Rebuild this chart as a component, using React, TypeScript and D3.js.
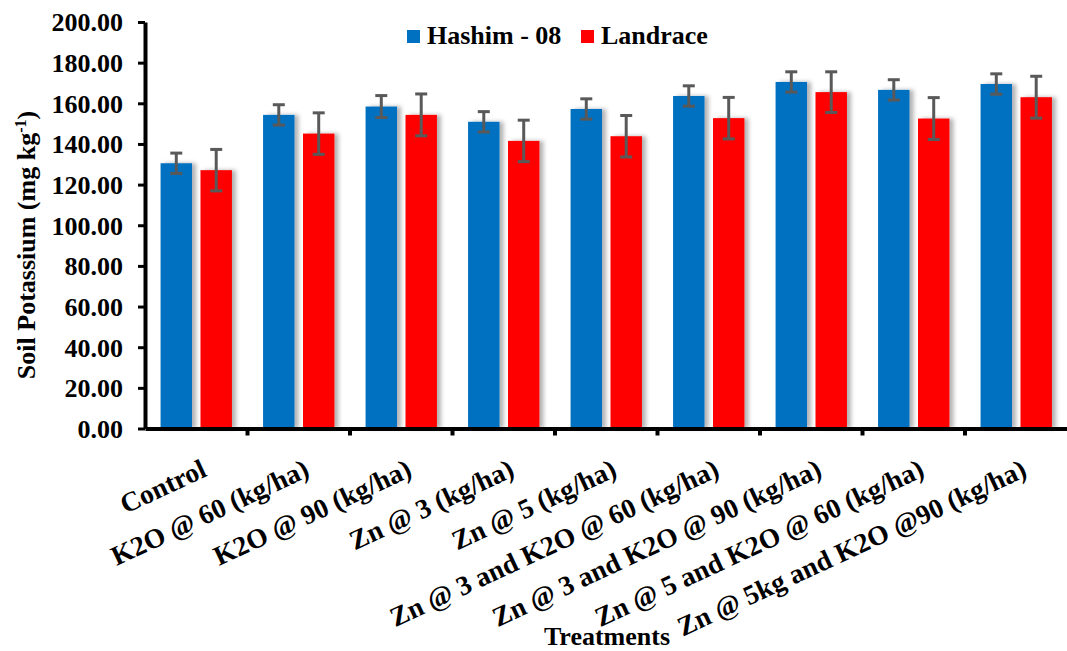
import React, { useRef, useEffect } from "react";
import * as d3 from "d3";

const categories = [
  "Control",
  "K2O @ 60 (kg/ha)",
  "K2O @ 90 (kg/ha)",
  "Zn @ 3 (kg/ha)",
  "Zn @ 5 (kg/ha)",
  "Zn @ 3 and K2O @ 60 (kg/ha)",
  "Zn @ 3 and K2O @ 90 (kg/ha)",
  "Zn @ 5 and K2O @ 60 (kg/ha)",
  "Zn @ 5kg and K2O @90 (kg/ha)",
];
const seriesNames = ["Hashim - 08", "Landrace"];
const seriesColors = ["#0070C0", "#FF0000"];
const hashimValues = [130.5, 154.3, 158.4, 150.9, 157.2, 163.6, 170.5, 166.6, 169.5];
const landraceValues = [127.1, 145.1, 154.3, 141.5, 143.8, 152.7, 165.5, 152.5, 163.0];
const hashimErrors = [5, 5, 5.4, 5, 5, 5, 5, 5, 5];
const landraceErrors = [10.2, 10.2, 10.3, 10.2, 10.2, 10.2, 10, 10.3, 10.3];
const yTicks = [0, 20, 40, 60, 80, 100, 120, 140, 160, 180, 200];

const W = 1067;
const H = 651;
const FONT = '"Liberation Serif", "DejaVu Serif", serif';

const App = () => {
  const svgRef = useRef<SVGSVGElement>(null);

  useEffect(() => {
    const svg = d3.select(svgRef.current);
    svg.selectAll("*").remove();

    const left = 145;
    const right = 1067.5;
    const top = 22;
    const bottom = 428.5;

    const x = d3.scaleBand().domain(categories).range([left, right]).padding(0);
    const xs = d3
      .scaleBand()
      .domain(seriesNames)
      .range([0, x.bandwidth()])
      .paddingInner(0.2125)
      .paddingOuter(0.39);
    const y = d3.scaleLinear().domain([0, 200]).range([bottom, top]);

    // drop shadow like the office chart
    const defs = svg.append("defs");
    const f = defs
      .append("filter")
      .attr("id", "shadow")
      .attr("x", "-20%")
      .attr("y", "-5%")
      .attr("width", "160%")
      .attr("height", "110%");
    f.append("feDropShadow")
      .attr("dx", 4)
      .attr("dy", 0)
      .attr("stdDeviation", 2)
      .attr("flood-color", "#000")
      .attr("flood-opacity", 0.3);

    const series = [
      { name: seriesNames[0], values: hashimValues, errs: hashimErrors, color: seriesColors[0] },
      { name: seriesNames[1], values: landraceValues, errs: landraceErrors, color: seriesColors[1] },
    ];

    // bars
    series.forEach((s) => {
      svg
        .append("g")
        .selectAll("rect")
        .data(categories)
        .enter()
        .append("rect")
        .attr("x", (c) => x(c)! + xs(s.name)!)
        .attr("y", (c, i) => y(s.values[i]))
        .attr("width", xs.bandwidth())
        .attr("height", (c, i) => bottom - y(s.values[i]))
        .attr("fill", s.color)
        .attr("filter", "url(#shadow)");
    });

    // error bars
    series.forEach((s) => {
      const g = svg.append("g").attr("stroke", "#595959").attr("stroke-width", 3);
      categories.forEach((c, i) => {
        const cx = x(c)! + xs(s.name)! + xs.bandwidth() / 2;
        const y1 = y(s.values[i] + s.errs[i]);
        const y0 = y(s.values[i] - s.errs[i]);
        g.append("line").attr("x1", cx).attr("x2", cx).attr("y1", y1).attr("y2", y0);
        g.append("line").attr("x1", cx - 6).attr("x2", cx + 6).attr("y1", y1).attr("y2", y1);
        g.append("line").attr("x1", cx - 6).attr("x2", cx + 6).attr("y1", y0).attr("y2", y0);
      });
    });

    // y axis
    const yAxis = svg
      .append("g")
      .attr("transform", `translate(${left},0)`)
      .call(
        d3
          .axisLeft(y)
          .tickValues(yTicks)
          .tickFormat((d) => d3.format(".2f")(d as number))
          .tickSize(7)
          .tickSizeOuter(0)
      );
    yAxis.select(".domain").attr("stroke", "#000").attr("stroke-width", 4);
    yAxis.selectAll(".tick line").attr("stroke", "#000").attr("stroke-width", 3);
    yAxis
      .selectAll(".tick text")
      .attr("x", -22)
      .attr("dy", "0.34em")
      .attr("fill", "#000")
      .attr("font-family", FONT)
      .attr("font-weight", "bold")
      .attr("font-size", 26);

    // x axis
    const xAxis = svg
      .append("g")
      .attr("transform", `translate(0,${bottom})`)
      .call(d3.axisBottom(x).tickValues([]).tickSizeOuter(0));
    xAxis.select(".domain").attr("stroke", "#000").attr("stroke-width", 4);
    const bounds = d3.range(1, categories.length).map((i) => x(categories[i])!);
    xAxis
      .selectAll(".bound")
      .data(bounds)
      .enter()
      .append("line")
      .attr("x1", (d) => d)
      .attr("x2", (d) => d)
      .attr("y1", 0)
      .attr("y2", 7)
      .attr("stroke", "#000")
      .attr("stroke-width", 4);

    // category labels, rotated like the original
    svg
      .append("g")
      .selectAll("text")
      .data(categories)
      .enter()
      .append("text")
      .attr("transform", (c) => `translate(${x(c)! + x.bandwidth() / 2 + 12},${bottom + 47}) rotate(-25)`)
      .attr("text-anchor", "end")
      .attr("font-family", FONT)
      .attr("font-weight", "bold")
      .attr("font-size", 27.5)
      .text((c) => c);

    // y title
    const yt = svg
      .append("text")
      .attr("transform", `translate(35,245) rotate(-90)`)
      .attr("text-anchor", "middle")
      .attr("font-family", FONT)
      .attr("font-weight", "bold")
      .attr("font-size", 26);
    yt.append("tspan").text("Soil Potassium (mg kg");
    yt.append("tspan").attr("dy", -9).attr("font-size", 16).text("-1");
    yt.append("tspan").attr("dy", 9).text(")");

    // x title
    svg
      .append("text")
      .attr("x", 607)
      .attr("y", 645)
      .attr("text-anchor", "middle")
      .attr("font-family", FONT)
      .attr("font-weight", "bold")
      .attr("font-size", 26)
      .text("Treatments");

    // legend
    const legendX = [407, 581];
    series.forEach((s, i) => {
      const lg = svg.append("g").attr("transform", `translate(${legendX[i]},30)`);
      lg.append("rect").attr("width", 13).attr("height", 13).attr("fill", s.color);
      lg.append("text")
        .attr("x", 20)
        .attr("y", 14)
        .attr("font-family", FONT)
        .attr("font-weight", "bold")
        .attr("font-size", 26)
        .text(s.name);
    });

    return () => {
      svg.selectAll("*").remove();
    };
  }, []);

  return (
    <svg
      ref={svgRef}
      width={W}
      height={H}
      style={{ position: "absolute", left: 0, top: 0, background: "#fff" }}
    />
  );
};

export default App;
